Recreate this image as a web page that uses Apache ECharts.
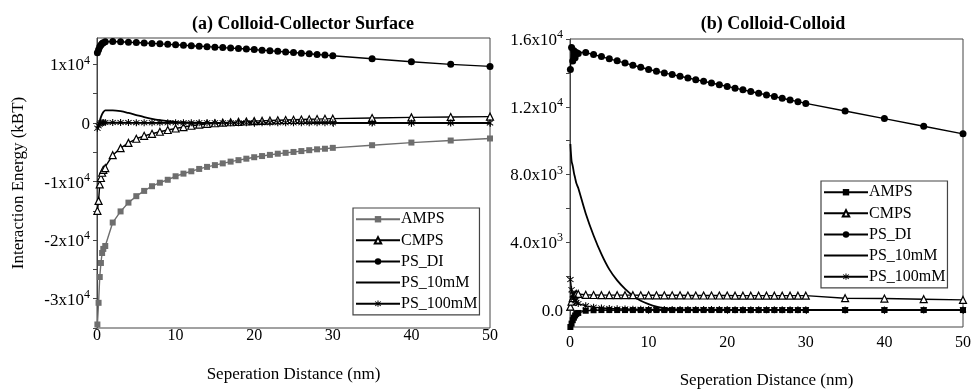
<!DOCTYPE html>
<html>
<head>
<meta charset="utf-8">
<title>Interaction Energy</title>
<script src="https://cdn.jsdelivr.net/npm/echarts@6/dist/echarts.min.js"></script>
<style>
  body { margin: 0; background: #fff; }
  #left { position: absolute; left: 0; top: 0; width: 510px; height: 390px; }
  #right { position: absolute; left: 495px; top: 0; width: 480px; height: 390px; }
</style>
</head>
<body>
<div id="left"></div>
<div id="right"></div>
<script type="text/javascript">
// separation distance (nm), shared by every curve
var dist = [0.05, 0.2, 0.35, 0.5, 0.65, 0.8, 1.05,
  2, 3, 4, 5, 6, 7, 8, 9, 10, 11, 12, 13, 14, 15, 16, 17, 18, 19, 20,
  21, 22, 23, 24, 25, 26, 27, 28, 29, 30, 35, 40, 45, 50];

// (a) colloid-collector surface, kBT
var ampsA = [-34400, -30700, -26300, -23900, -22200, -21500, -21000,
  -17000, -15100, -13600, -12500, -11600, -10800, -10200, -9700, -9100, -8650, -8250, -7850, -7500, -7200,
  -6900, -6600, -6350, -6100, -5850, -5650, -5450, -5250, -5100, -4950, -4800, -4650, -4500, -4400, -4250,
  -3800, -3350, -3000, -2650];
var cmpsA = [-15000, -13300, -10500, -9400, -8500, -8000, -7700,
  -5500, -4300, -3400, -2700, -2200, -1850, -1500, -1200, -950, -700, -480, -300, -150, -50,
  50, 120, 190, 250, 310, 360, 410, 460, 500, 540, 580, 620, 660, 700, 730,
  850, 950, 1020, 1080];
var psdiA = [12000, 12500, 13000, 13300, 13550, 13700, 13850,
  13900, 13850, 13780, 13720, 13650, 13580, 13500, 13420, 13340, 13260, 13180, 13100, 13020, 12940,
  12860, 12780, 12700, 12610, 12520, 12420, 12320, 12220, 12120, 12020, 11910, 11800, 11690, 11580, 11470,
  10950, 10450, 10000, 9650];
var ps10A = [-700, -200, 400, 1000, 1500, 1850, 2150,
  2150, 2000, 1700, 1350, 1000, 700, 470, 300, 190, 120, 70, 40, 20, 10,
  0, 0, 0, 0, 0, 0, 0, 0, 0, 0, 0, 0, 0, 0, 0,
  0, 0, 0, 0];
var ps100A = [-900, -500, -200, 0, 50, 70, 80,
  80, 70, 60, 50, 40, 40, 40, 40, 40, 30, 30, 30, 30, 30,
  30, 30, 30, 30, 30, 20, 20, 20, 20, 20, 20, 20, 20, 20, 20,
  0, 0, 0, 0];

// (b) colloid-colloid, kBT
var ampsB = [-1000, -800, -600, -450, -320, -230, -170,
  -40, -10, 0, 0, 0, 0, 0, 0, 0, 0, 0, 0, 0, 0,
  0, 0, 0, 0, 0, 0, 0, 0, 0, 0, 0, 0, 0, 0, 0,
  0, 0, 0, 0];
var cmpsB = [200, 500, 700, 850, 920, 950, 950,
  900, 890, 880, 880, 880, 880, 880, 870, 870, 870, 870, 870, 870, 860,
  860, 860, 860, 860, 860, 850, 850, 850, 850, 850, 850, 850, 850, 850, 850,
  700, 680, 640, 600];
var psdiB = [14200, 15500, 14700, 15300, 14900, 15200, 15150,
  15200, 15080, 14960, 14830, 14710, 14580, 14450, 14330, 14200, 14100, 14000, 13900, 13800, 13700,
  13600, 13500, 13400, 13300, 13200, 13100, 13000, 12900, 12800, 12700, 12600, 12500, 12400, 12300, 12200,
  11750, 11300, 10850, 10400];
var ps10B = [9800, 8800, 8500, 8100, 7800, 7500, 7200,
  5700, 4400, 3300, 2400, 1750, 1250, 850, 550, 350, 200, 110, 50, 20, 10,
  0, 0, 0, 0, 0, 0, 0, 0, 0, 0, 0, 0, 0, 0, 0,
  0, 0, 0, 0];
var ps100B = [1800, 1200, 900, 700, 550, 450, 380,
  250, 170, 120, 90, 70, 60, 50, 45, 40, 30, 30, 30, 30, 30,
  30, 30, 30, 30, 30, 20, 20, 20, 20, 20, 20, 20, 20, 20, 20,
  10, 10, 10, 10];

// tick labels / tick positions
var yTicksA = [-35000, -30000, -25000, -20000, -15000, -10000, -5000, 0, 5000, 10000];
var yLabelsA = [-30000, -20000, -10000, 0, 10000];
var yTicksB = [0, 2000, 4000, 6000, 8000, 10000, 12000, 14000, 16000];
var yLabelsB = [0, 4000, 8000, 12000, 16000];

var serif = 'Liberation Serif, Times New Roman, serif';
var star = 'path://M-0.6,-5L0.6,-5L0.6,5L-0.6,5Z M-3.1,-3.9L3.9,3.1L3.1,3.9L-3.9,-3.1Z M3.1,-3.9L3.9,-3.1L-3.1,3.9L-3.9,3.1Z';

function pairs(ys) {
  var out = [];
  for (var i = 0; i < dist.length; i++) out.push([dist[i], ys[i]]);
  return out;
}

// 1x10^4 style labels
function sciLabel(oneDecimal) {
  return function (v) {
    if (v === 0) return '{m|' + (oneDecimal ? '0.0' : '0') + '}';
    var e = Math.floor(Math.log10(Math.abs(v)) + 1e-9);
    var m = v / Math.pow(10, e);
    return '{m|' + m.toFixed(oneDecimal ? 1 : 0) + 'x10}{e|' + e + '}';
  };
}

function build(ys, ampsColor, labels, ticks, ymin, ymax, fmt, gridPos, legendPos, title, titleX, nameY, xMargin) {
  var lineW = 1.4;
  return {
    animation: false,
    title: {
      text: title, left: titleX, top: 10, textAlign: 'center',
      textStyle: { fontFamily: serif, fontSize: 18, fontWeight: 'bold', color: '#000' }
    },
    grid: Object.assign({ show: true, borderColor: '#444', borderWidth: 1, outerBoundsMode: 'none' }, gridPos),
    legend: Object.assign({
      orient: 'vertical',
      data: [
        { name: 'AMPS' }, { name: 'CMPS' }, { name: 'PS_DI' },
        { name: 'PS_10mM', itemStyle: { color: 'rgba(0,0,0,0)', borderWidth: 0 } },
        { name: 'PS_100mM' }
      ],
      itemWidth: 44, itemHeight: 8, itemGap: 4.6,
      borderColor: '#444', borderWidth: 1.2,
      padding: [3, 2, 3, 2],
      textStyle: { fontFamily: serif, fontSize: 16, color: '#000', lineHeight: 16.5, padding: [0, 0, 0, -4] }
    }, legendPos),
    xAxis: {
      type: 'value', min: 0, max: 50, interval: 10,
      name: 'Seperation Distance (nm)', nameLocation: 'middle', nameGap: nameY,
      nameTextStyle: { fontFamily: serif, fontSize: 17, color: '#000' },
      axisLine: { lineStyle: { color: '#444', width: 1 } },
      axisTick: { inside: false, length: 4, lineStyle: { color: '#444' } },
      minorTick: { show: true, splitNumber: 2, length: 3, lineStyle: { color: '#444' } },
      splitLine: { show: false },
      axisLabel: { fontFamily: serif, fontSize: 16, color: '#000', margin: xMargin }
    },
    yAxis: {
      type: 'value', min: ymin, max: ymax,
      axisLine: { show: true, lineStyle: { color: '#444', width: 1 } },
      axisTick: { show: true, length: 4, customValues: ticks, lineStyle: { color: '#444' } },
      splitLine: { show: false },
      axisLabel: {
        customValues: labels, formatter: fmt, margin: 7,
        rich: {
          m: { fontFamily: serif, fontSize: 17, color: '#000', lineHeight: 20, verticalAlign: 'bottom' },
          e: { fontFamily: serif, fontSize: 12, color: '#000', lineHeight: 12, verticalAlign: 'top' }
        }
      }
    },
    series: [
      { name: 'AMPS', type: 'line', data: pairs(ys[0]), symbol: 'rect', symbolSize: 6,
        color: ampsColor, lineStyle: { width: lineW, color: ampsColor }, itemStyle: { color: ampsColor } },
      { name: 'CMPS', type: 'line', data: pairs(ys[1]), symbol: 'triangle', symbolSize: 7,
        color: '#000', lineStyle: { width: lineW, color: '#000' },
        itemStyle: { color: '#fff', borderColor: '#000', borderWidth: 1.2 } },
      { name: 'PS_DI', type: 'line', data: pairs(ys[2]), symbol: 'circle', symbolSize: 7,
        color: '#000', lineStyle: { width: lineW, color: '#000' }, itemStyle: { color: '#000' } },
      { name: 'PS_10mM', type: 'line', data: pairs(ys[3]), symbol: 'none', smooth: 0.3,
        color: '#000', lineStyle: { width: lineW + 0.4, color: '#000' } },
      { name: 'PS_100mM', type: 'line', data: pairs(ys[4]), symbol: star, symbolSize: 7,
        color: '#000', lineStyle: { width: lineW, color: '#000' }, itemStyle: { color: '#000' } }
    ]
  };
}

var leftChart = echarts.init(document.getElementById('left'));
var optA = build([ampsA, cmpsA, psdiA, ps10A, ps100A], '#6e6e6e', yLabelsA, yTicksA,
  -35000, 14500, sciLabel(false),
  { left: 97, top: 38, width: 393, height: 290 },
  { left: 353, top: 208 },
  '(a) Colloid-Collector Surface', 298, 38, 0);
optA.yAxis.name = 'Interaction Energy (kBT)';
optA.yAxis.nameLocation = 'middle';
optA.yAxis.nameGap = 70;
optA.yAxis.nameTextStyle = { fontFamily: serif, fontSize: 17, color: '#000' };
leftChart.setOption(optA);

var rightChart = echarts.init(document.getElementById('right'));
var optB = build([ampsB, cmpsB, psdiB, ps10B, ps100B], '#000', yLabelsB, yTicksB,
  -1000, 16000, sciLabel(true),
  { left: 75, top: 39, width: 393, height: 288 },
  { left: 326, top: 181 },
  '(b) Colloid-Colloid', 273, 45, 8);
rightChart.setOption(optB);
</script>
</body>
</html>
